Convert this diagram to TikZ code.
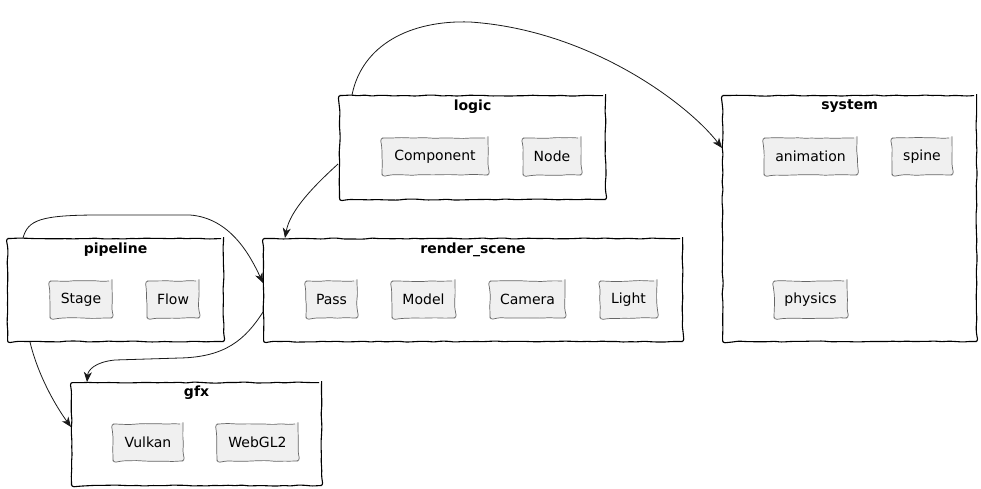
\documentclass[tikz,border=0pt]{standalone}
\usepackage{fontspec}
\setmainfont{DejaVu Sans}
\usetikzlibrary{arrows.meta,calc,decorations.pathmorphing}
\tikzset{
  wob/.style={decorate,decoration={random steps,segment length=7pt,amplitude=0.55pt}},
  pkg/.style={draw=black,line width=1.1pt,rounded corners=2.5pt,anchor=north west,inner sep=0pt,fill=white,wob},
  comp/.style={draw=black!60,line width=0.7pt,fill=black!6,rounded corners=3pt,minimum height=37pt,inner sep=0pt,wob,
    font=\fontsize{14}{16}\selectfont},
  ptitle/.style={font=\fontsize{14}{16}\selectfont\bfseries,inner sep=0pt},
  conn/.style={draw=black!90,line width=0.8pt,-{Stealth[length=10pt,width=8pt,inset=3pt]}}
}
\begin{document}
\begin{tikzpicture}[x=1pt,y=-1pt]
\pgfmathsetseed{7}
\useasboundingbox (0,0) rectangle (981,489);
% packages
\node[pkg,minimum width=266pt,minimum height=104pt] (logic) at (339,95) {};
\node[pkg,minimum width=254pt,minimum height=246pt] (system) at (722,95) {};
\node[pkg,minimum width=216pt,minimum height=103pt] (pipeline) at (7,238) {};
\node[pkg,minimum width=419pt,minimum height=103pt] (render) at (263,238) {};
\node[pkg,minimum width=250pt,minimum height=103pt] (gfx) at (71,382) {};
% titles
\node[ptitle] (tlogic) at ($(logic.north)+(0,11.5)$) {logic};
\node[ptitle] (tsystem) at ($(system.north)+(0,11.5)$) {system};
\node[ptitle] (tpipeline) at ($(pipeline.north)+(0,11.5)$) {pipeline};
\node[ptitle] (trender) at ($(render.north)+(0,11.5)$) {render\_scene};
\node[ptitle] (tgfx) at ($(gfx.north)+(0,11)$) {gfx};
% components
\node[comp,minimum width=106pt] (component) at (435,156.5) {Component};
\node[comp,minimum width=58pt] (nodec) at (552,156.5) {Node};
\node[comp,minimum width=93pt] (animation) at (810.5,156.5) {animation};
\node[comp,minimum width=60pt] (spine) at (922,156.5) {spine};
\node[comp,minimum width=73pt] (physics) at (810.5,299.5) {physics};
\node[comp,minimum width=62pt] (stage) at (81,299.5) {Stage};
\node[comp,minimum width=52pt] (flow) at (173,299.5) {Flow};
\node[comp,minimum width=51pt] (pass) at (331.5,299.5) {Pass};
\node[comp,minimum width=63pt] (model) at (423.5,299.5) {Model};
\node[comp,minimum width=75pt] (camera) at (527.5,299.5) {Camera};
\node[comp,minimum width=57pt] (light) at (628.5,299.5) {Light};
\node[comp,minimum width=70pt] (vulkan) at (148,442.5) {Vulkan};
\node[comp,minimum width=81pt] (webgl) at (257.5,442.5) {WebGL2};
% connectors
\draw[conn] ($(logic.north west)+(13,0)$) .. controls (362,45) and (410,20) .. (470,22)
  .. controls (590,30) and (688,104) .. ($(system.north west)+(0,53)$);
\draw[conn] ($(logic.north west)+(-1,69)$) .. controls (315,185) and (290,210) .. ($(render.north west)+(22,0)$);
\draw[conn] ($(pipeline.north west)+(16,0)$) .. controls (28,220) and (40,215) .. (100,215)
  -- (190,215) .. controls (230,218) and (250,255) .. ($(render.north west)+(0,45)$);
\draw[conn] ($(pipeline.south west)+(23,0)$) .. controls (38,375) and (55,405) .. ($(gfx.north west)+(0,45)$);
\draw[conn] ($(render.north west)+(0,74)$) .. controls (245,340) and (225,357) .. (180,358)
  -- (115,360) .. controls (95,362) and (88,370) .. ($(gfx.north west)+(16,0)$);
\end{tikzpicture}
\end{document}
